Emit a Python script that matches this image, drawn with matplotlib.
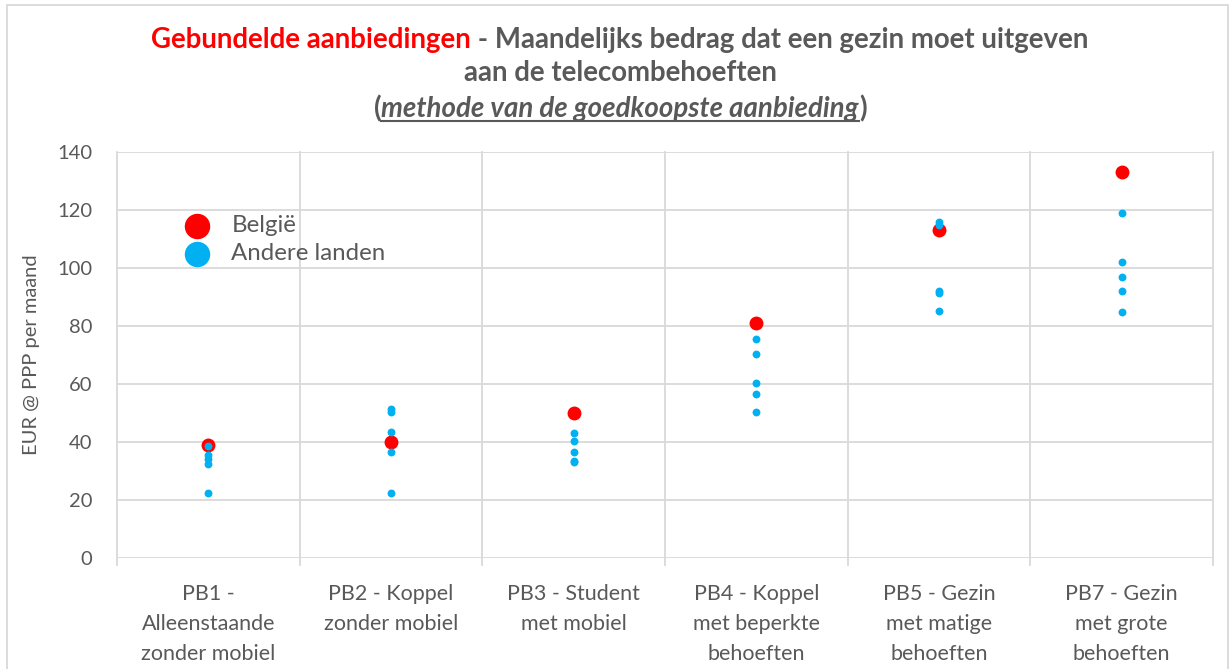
import matplotlib.pyplot as plt
from matplotlib.patches import Rectangle

plt.rcParams['font.family'] = ['Lato', 'DejaVu Sans']

categories = ["PB1 -\nAlleenstaande\nzonder mobiel", "PB2 - Koppel\nzonder mobiel",
              "PB3 - Student\nmet mobiel", "PB4 - Koppel\nmet beperkte\nbehoeften",
              "PB5 - Gezin\nmet matige\nbehoeften", "PB7 - Gezin\nmet grote\nbehoeften"]
belgie = [39, 40, 50, 81, 113, 133]
andere = [
    [38.5, 35.5, 34, 32.5, 22.5],
    [51.5, 50.5, 43.5, 36.5, 22.5],
    [43, 40.5, 36.5, 33.5, 33],
    [75.5, 70.3, 60.3, 56.5, 50.4],
    [116, 115, 92, 91.5, 85.2],
    [119, 102, 97, 92, 85],
]

grey = "#595959"
gridc = "#d9d9d9"
red = "#ff0000"
blue = "#00b0f0"

fig = plt.figure(figsize=(12.31, 6.69), dpi=100)
ax = fig.add_axes([117 / 1231, 1 - 558 / 669, (1213 - 117) / 1231, (558 - 152) / 669])

for i, vals in enumerate(andere):
    ax.scatter([i] * len(vals), vals, s=32, color=blue, zorder=3, linewidths=0)
ax.scatter(range(len(belgie)), belgie, s=100, color=red, zorder=2, linewidths=0)

ax.set_xlim(-0.5, len(categories) - 0.5)
ax.set_ylim(0, 140)
ax.set_yticks(range(0, 141, 20))
ax.yaxis.grid(True, color=gridc, lw=1.3)
for b in range(len(categories) + 1):
    ax.plot([b - 0.5, b - 0.5], [-2.5, 140], color=gridc, lw=1.3, clip_on=False, zorder=0)
ax.set_axisbelow(True)
for s in ax.spines.values():
    s.set_visible(False)
ax.tick_params(axis='both', length=0, colors=grey)
ax.tick_params(axis='y', pad=18, labelsize=14.5)
ax.tick_params(axis='x', pad=19, labelsize=15.5)
ax.set_xticks(range(len(categories)))
ax.set_xticklabels(categories, linespacing=1.62)
ax.set_ylabel("EUR @ PPP per maand", color=grey, fontsize=14.5, labelpad=12)

# legend
ax.scatter([], [], s=300, color=red, label="België")
ax.scatter([], [], s=300, color=blue, label="Andere landen")
ax.legend(loc='upper left', bbox_to_anchor=(0.031, 0.897), frameon=False,
          fontsize=17.3, handletextpad=0.45, labelspacing=0.28, labelcolor=grey)

# title with mixed colours
fig.canvas.draw()
r = fig.canvas.get_renderer()
tsize = 19.9
cx = 620
y1 = 1 - 40 / 669
t1 = fig.text(0, y1, "Gebundelde aanbiedingen", color=red, fontsize=tsize,
              fontweight='bold', va='center')
t2 = fig.text(0, y1, " - Maandelijks bedrag dat een gezin moet uitgeven", color=grey,
              fontsize=tsize, fontweight='bold', va='center')
w1 = t1.get_window_extent(r).width
w2 = t2.get_window_extent(r).width
x0 = cx - (w1 + w2) / 2
t1.set_x(x0 / 1231)
t2.set_x((x0 + w1) / 1231)
fig.text(cx / 1231, 1 - 73 / 669, "aan de telecombehoeften", color=grey, fontsize=tsize,
         fontweight='bold', ha='center', va='center')

y3 = 1 - 109 / 669
pa = fig.text(0, y3, "(", color=grey, fontsize=tsize, fontweight='bold', va='center')
pm = fig.text(0, y3, "methode van de goedkoopste aanbieding", color=grey, fontsize=tsize,
              fontweight='bold', style='italic', va='center')
pb = fig.text(0, y3, ")", color=grey, fontsize=tsize, fontweight='bold', va='center')
wa = pa.get_window_extent(r).width
wm = pm.get_window_extent(r).width
wb = pb.get_window_extent(r).width
x0 = cx - (wa + wm + wb) / 2
pa.set_x(x0 / 1231)
pm.set_x((x0 + wa) / 1231)
pb.set_x((x0 + wa + wm) / 1231)
ext = pm.get_window_extent(r)
uy = (ext.y0 + 1) / 669
fig.add_artist(plt.Line2D([(x0 + wa) / 1231, (x0 + wa + wm) / 1231], [uy, uy],
                          color=grey, lw=1.5))

# chart border
fig.add_artist(Rectangle((7 / 1231, -0.01), (1228 - 7) / 1231, 1 - 5 / 669 + 0.01,
                         transform=fig.transFigure, fill=False, edgecolor=gridc, lw=1.3))

fig.savefig("out.png", dpi=100)
